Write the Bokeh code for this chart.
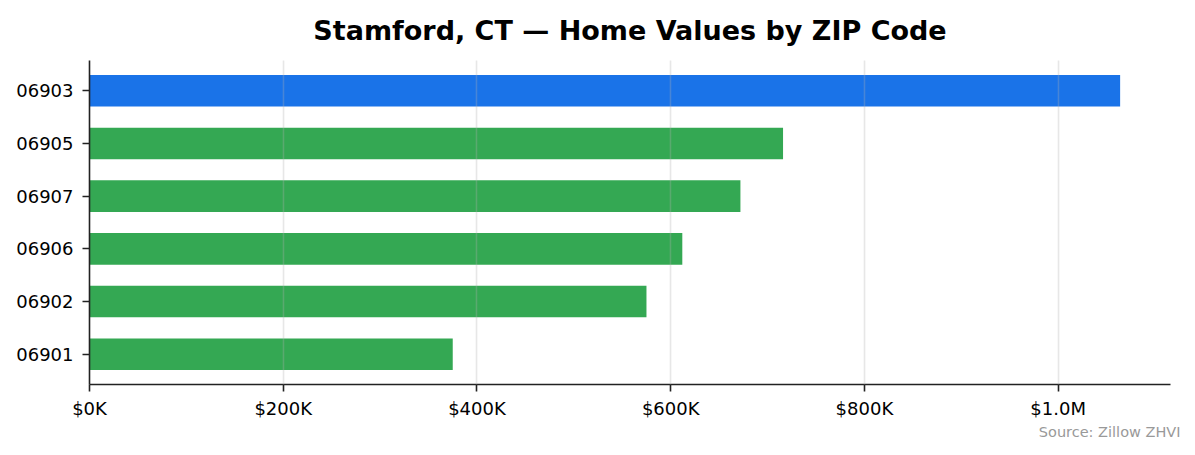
from bokeh.plotting import figure
from bokeh.models import ColumnDataSource, FactorRange, Range1d, SingleIntervalTicker, Title
from bokeh.embed import file_html
from bokeh.resources import INLINE

# ---- data ----
zips = ["06901", "06902", "06906", "06907", "06905", "06903"]
values = [375000, 575000, 612000, 672000, 716000, 1064000]
tick_values = [0, 200000, 400000, 600000, 800000, 1000000]
tick_labels = ["$0K", "$200K", "$400K", "$600K", "$800K", "$1.0M"]
title_text = "Stamford, CT \u2014 Home Values by ZIP Code"
source_text = "Source: Zillow ZHVI"

BLUE = "#1a73e8"
GREEN = "#34a853"
top_val = max(values)
colors = [BLUE if v == top_val else GREEN for v in values]

src = ColumnDataSource(dict(zip=zips, value=values, color=colors))

FONT = "DejaVu Sans"
X_MAX = 1116000

p = figure(
    width=1187, height=447,
    y_range=FactorRange(*zips, range_padding=0.075, range_padding_units="absolute"),
    x_range=Range1d(0, X_MAX),
    output_backend="svg", toolbar_location=None,
    min_border_left=89, min_border_right=17, min_border_top=60, min_border_bottom=63,
)
p.title.text = title_text
p.title.align = "center"
p.title.vertical_align = "top"
p.title.text_font = FONT
p.title.text_font_size = "27px"
p.title.text_font_style = "bold"
p.title.text_color = "#000000"
p.title.standoff = 25

p.hbar(y="zip", left=0, right="value", height=0.6, fill_color="color",
       line_color=None, source=src)

p.outline_line_color = None
p.ygrid.grid_line_color = None
p.xgrid.grid_line_color = "#b0b0b0"
p.xgrid.grid_line_alpha = 0.3
p.xgrid.grid_line_width = 1.6
p.xgrid.level = "annotation"
p.xgrid.ticker = SingleIntervalTicker(interval=200000)

for ax in (p.xaxis[0], p.yaxis[0]):
    ax.axis_line_color = "#222222"
    ax.axis_line_width = 1.6
    ax.major_tick_line_color = "#222222"
    ax.major_tick_line_width = 1.6
    ax.major_tick_out = 7
    ax.major_tick_in = 0
    ax.minor_tick_line_color = None
    ax.major_label_text_font = FONT
    ax.major_label_text_font_size = "18px"
    ax.major_label_text_color = "#000000"

p.xaxis.ticker = SingleIntervalTicker(interval=200000)
p.xaxis.major_label_overrides = {v: l for v, l in zip(tick_values, tick_labels)}
p.xaxis.major_label_standoff = 6
p.yaxis.major_label_standoff = 9

p.add_layout(Title(text=source_text, align="right", text_font=FONT,
                   text_font_size="14.5px", text_font_style="normal",
                   text_color="#999999", offset=-10, standoff=0), "below")

open("out.html", "w").write(file_html(p, INLINE))
